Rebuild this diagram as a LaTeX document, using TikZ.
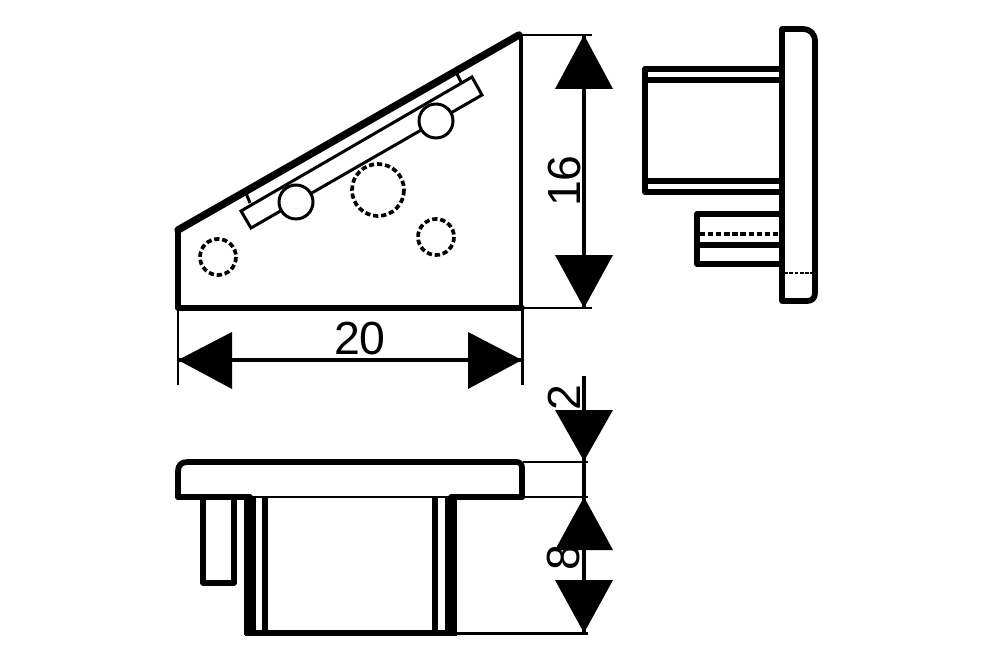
\documentclass[tikz,border=0pt]{standalone}
\usepackage{fontspec}
\setmainfont{Liberation Sans}
\usepackage{tikz}
\tikzset{
  outline/.style={line width=1.65pt,line join=round,line cap=round},
  thinline/.style={line width=0.85pt},
  dimline/.style={line width=1.4pt},
  dimhead/.style={fill=black},
  dimtext/.style={font=\fontsize{13.2}{15}\selectfont,inner sep=0pt},
  hidden/.style={line width=1.05pt,dash pattern=on 1.5pt off 0.8pt}
}
\begin{document}
\begin{tikzpicture}[x=0.01cm,y=-0.01cm]
\useasboundingbox (0,0) rectangle (1000,667);

% Front view
\draw[outline,line width=1.5pt] (178,231) -- (178,308);
\draw[outline,line width=2.1pt] (178,230) -- (519,35);
\draw[outline] (178,308) -- (522,308);
\draw[line width=1.1pt] (521,34) -- (521,308);
\draw[thinline] (241,211) -- (472,77) -- (482,95) -- (251,228) -- cycle;
\draw[thinline] (246,193) -- (250,203);
\draw[thinline] (456,72) -- (461,82);
\draw[thinline,fill=white] (296,202) circle (17);
\draw[thinline,fill=white] (436,121) circle (17);
\draw[hidden] (378,190) circle (26);
\draw[hidden] (436,237) circle (18);
\draw[hidden] (218,257) circle (18);

% Side view
\draw[outline] (782,29) -- (802,29) .. controls (811,29) and (815,34) .. (815,42) -- (815,293) .. controls (815,298) and (812,301) .. (807,301) -- (782,301) -- cycle;
\draw[outline] (782,69) -- (645,69) -- (645,192) -- (782,192);
\draw[outline] (645,80) -- (782,80);
\draw[outline] (645,181) -- (782,181);
\draw[outline] (782,214) -- (697,214) -- (697,264) -- (782,264);
\draw[outline] (697,245) -- (782,245);
\draw[hidden] (700,234) -- (782,234);
\draw[line width=0.7pt,dash pattern=on 1.1pt off 0.4pt] (784,273) -- (813,273);

% Top view
\draw[outline] (178,497) -- (178,472) .. controls (178,465) and (181,462) .. (188,462) -- (516,462) .. controls (520,462) and (522,464) .. (522,468) -- (522,497);
\draw[outline] (178,497) -- (250,497);
\draw[outline] (451,497) -- (522,497);
\draw[thinline] (250,497) -- (451,497);
\draw[outline,line width=1.5pt] (203,497) -- (203,583) -- (234,583) -- (234,497);
\draw[line width=3.4pt] (250,497) -- (250,635);
\draw[line width=3.4pt] (451,497) -- (451,635);
\draw[outline,line cap=butt] (265,497) -- (265,633);
\draw[outline,line cap=butt] (435,497) -- (435,633);
\draw[outline,line cap=butt] (245,633) -- (457,633);

% Dimension 20
\coordinate (widthL) at (178,360);
\coordinate (widthR) at (522,360);
\draw[thinline] (178,310) -- (178,385);
\draw[thinline] (522,310) -- (522,385);
\draw[dimline] (widthL) -- (widthR);
\fill[dimhead] (widthL) -- (232,332) -- (232,389) -- cycle;
\fill[dimhead] (widthR) -- (468,332) -- (468,389) -- cycle;
\node[dimtext] (widthtext) at (360,339) {20};

% Dimension 16
\coordinate (heightT) at (584,35);
\coordinate (heightB) at (584,308);
\draw[thinline] (522,35) -- (592,35);
\draw[thinline] (522,308) -- (592,308);
\draw[dimline] (heightT) -- (heightB);
\fill[dimhead] (heightT) -- (555,89) -- (613,89) -- cycle;
\fill[dimhead] (heightB) -- (555,255) -- (613,255) -- cycle;
\node[dimtext,rotate=90] (heighttext) at (565,181) {16};

% Dimensions 2 and 8
\coordinate (plateS) at (584,376);
\coordinate (plateT) at (584,461);
\coordinate (plateB) at (584,497);
\coordinate (blockB) at (584,633);
\draw[thinline] (523,462) -- (588,462);
\draw[thinline] (523,497) -- (588,497);
\draw[thinline] (456,633) -- (588,633);
\draw[dimline] (plateS) -- (blockB);
\fill[dimhead] (plateT) -- (555,410) -- (613,410) -- cycle;
\fill[dimhead] (plateB) -- (555,550) -- (613,550) -- cycle;
\fill[dimhead] (blockB) -- (555,580) -- (613,580) -- cycle;
\node[dimtext,rotate=90] (platetext) at (564,398) {2};
\node[dimtext,rotate=90] (blocktext) at (564,558) {8};
\end{tikzpicture}
\end{document}
